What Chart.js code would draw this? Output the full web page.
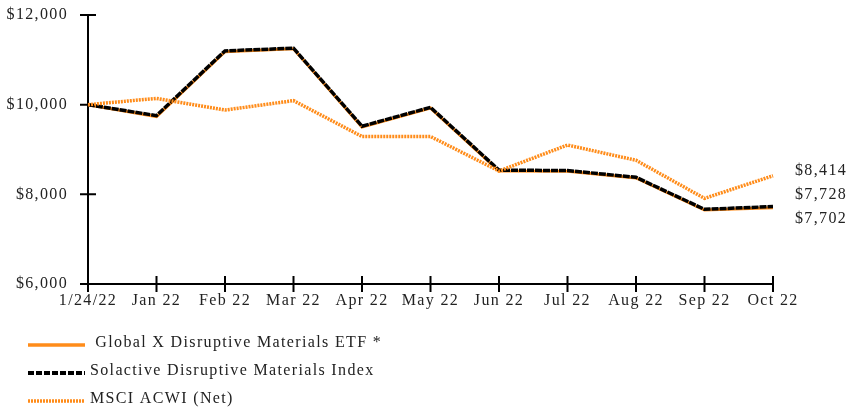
<!DOCTYPE html>
<html>
<head>
<meta charset="utf-8">
<script src="https://cdn.jsdelivr.net/npm/chart.js@4.4.0/dist/chart.umd.min.js"></script>
<style>
    html, body { margin: 0; background: #fff; }
    #wrap { width: 852px; height: 412px; position: relative; }
</style>
</head>
<body>
<div id="wrap"><canvas id="myChart"></canvas></div>
<script>
    "use strict";
    // datos
    const fechas = ['1/24/22', 'Jan 22', 'Feb 22', 'Mar 22', 'Apr 22', 'May 22', 'Jun 22', 'Jul 22', 'Aug 22', 'Sep 22', 'Oct 22'];
    const etf = [10000, 9735, 11180, 11245, 9500, 9925, 8520, 8515, 8365, 7650, 7702];
    const indice = [10000, 9755, 11200, 11260, 9520, 9940, 8540, 8530, 8380, 7665, 7728];
    const msci = [10000, 10140, 9880, 10090, 9290, 9290, 8520, 9100, 8760, 7910, 8414];
    const nombres = [' Global X Disruptive Materials ETF *', 'Solactive Disruptive Materials Index', 'MSCI ACWI (Net)'];
    const yMin = 6000, yMax = 12000, yPaso = 2000;

    const naranja = '#ff8c1a';
    const espaciado = '1.35px';
    const fuente = '16px "Liberation Serif", "Times New Roman", serif';
    Chart.defaults.font.family = '"Liberation Serif", "Times New Roman", serif';
    Chart.defaults.font.size = 16;
    Chart.defaults.color = '#222';

    function dinero(v) {
        return '$' + Number(v).toLocaleString('en-US');
    }

    function muestra(ctx, tipo, x1, x2, y) {
        ctx.save();
        if (tipo === 0) {
            ctx.lineWidth = 3.5;
            ctx.strokeStyle = naranja;
            ctx.beginPath(); ctx.moveTo(x1, y); ctx.lineTo(x2, y); ctx.stroke();
        } else if (tipo === 1) {
            ctx.lineWidth = 4;
            ctx.strokeStyle = '#000';
            ctx.setLineDash([6, 2]);
            ctx.beginPath(); ctx.moveTo(x1, y); ctx.lineTo(x2, y); ctx.stroke();
        } else {
            ctx.lineWidth = 3.5;
            ctx.strokeStyle = naranja;
            ctx.setLineDash([2, 1]);
            ctx.beginPath(); ctx.moveTo(x1, y); ctx.lineTo(x2, y); ctx.stroke();
        }
        ctx.restore();
    }

    const ejes = {
        id: 'ejes',
        beforeLayout(chart) {
            chart.ctx.letterSpacing = espaciado;
        },
        beforeDraw(chart) {
            chart.ctx.letterSpacing = espaciado;
        },
        beforeDatasetsDraw(chart) {
            const ctx = chart.ctx;
            const a = chart.chartArea;
            const sx = chart.scales.x, sy = chart.scales.y;
            ctx.save();
            ctx.strokeStyle = '#000';
            ctx.lineWidth = 2;
            ctx.beginPath();
            ctx.moveTo(a.left, a.top); ctx.lineTo(a.left, a.bottom);
            ctx.moveTo(a.left, a.bottom); ctx.lineTo(a.right, a.bottom);
            sy.ticks.forEach((t, i) => {
                const y = sy.getPixelForTick(i);
                ctx.moveTo(a.left - 8, y); ctx.lineTo(a.left + 8, y);
            });
            sx.ticks.forEach((t, i) => {
                const x = sx.getPixelForTick(i);
                ctx.moveTo(x, a.bottom - 8); ctx.lineTo(x, a.bottom + 8);
            });
            ctx.stroke();
            ctx.restore();
        },
        afterDraw(chart) {
            const ctx = chart.ctx;
            const a = chart.chartArea;
            const sy = chart.scales.y;
            ctx.save();
            ctx.font = fuente;
            ctx.letterSpacing = espaciado;
            ctx.fillStyle = '#222';
            ctx.textBaseline = 'middle';
            ctx.textAlign = 'left';
            // valores finales
            const finales = [msci[msci.length - 1], indice[indice.length - 1], etf[etf.length - 1]];
            const y0 = sy.getPixelForValue(finales[0]) - 5;
            finales.forEach((v, i) => {
                ctx.fillText(dinero(v), a.right + 22, y0 + i * 24);
            });
            // leyenda
            nombres.forEach((n, i) => {
                const y = 343 + i * 28;
                muestra(ctx, i, 28, 85, y + 2);
                ctx.fillStyle = '#222';
                ctx.fillText(n, 90, y);
            });
            ctx.restore();
        }
    };

    const ctx = document.getElementById('myChart').getContext('2d');
    ctx.letterSpacing = espaciado;
    const myChart = new Chart(ctx, {
        type: 'line',
        data: {
            labels: fechas,
            datasets: [{
                label: nombres[0],
                data: etf,
                borderColor: naranja,
                borderWidth: 3,
                pointRadius: 0,
                tension: 0,
                order: 3
            }, {
                label: nombres[1],
                data: indice,
                borderColor: '#000',
                borderWidth: 3.5,
                borderDash: [7, 1],
                pointRadius: 0,
                tension: 0,
                order: 2
            }, {
                label: nombres[2],
                data: msci,
                borderColor: naranja,
                borderWidth: 3.5,
                borderDash: [2, 1],
                pointRadius: 0,
                tension: 0,
                order: 1
            }]
        },
        options: {
            responsive: true,
            maintainAspectRatio: false,
            animation: false,
            layout: {padding: {left: 0, top: 15, right: 79, bottom: 98}},
            plugins: {
                legend: {display: false},
                tooltip: {enabled: false}
            },
            scales: {
                x: {
                    grid: {display: false, drawTicks: false},
                    border: {display: false},
                    offset: false,
                    ticks: {padding: 7, maxRotation: 0, autoSkip: false},
                    afterFit(s) { s.height = 30; }
                },
                y: {
                    min: yMin,
                    max: yMax,
                    grid: {display: false, drawTicks: false},
                    border: {display: false},
                    ticks: {stepSize: yPaso, padding: 20, callback: (v) => dinero(v)},
                    afterFit(s) {
                        s.width = 88;
                        s.paddingTop = 0;
                        s.paddingBottom = 0;
                    }
                }
            }
        },
        plugins: [ejes]
    });
</script>
</body>
</html>
